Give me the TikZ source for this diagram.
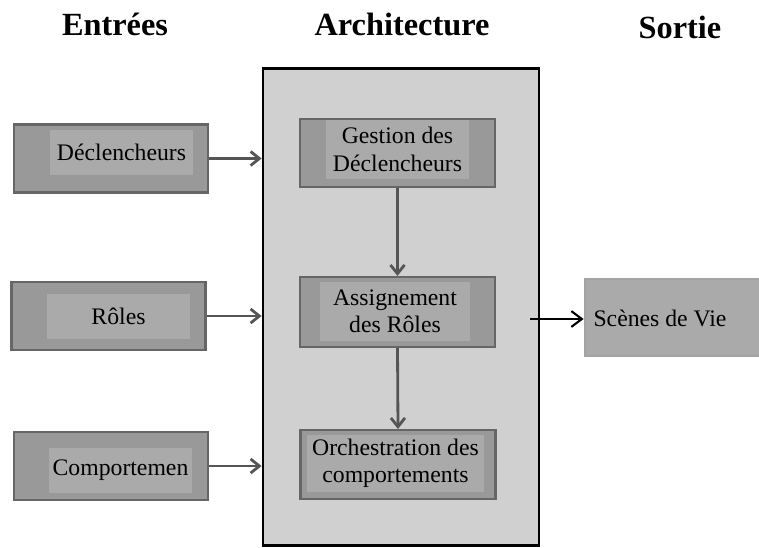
\documentclass[tikz,border=0pt]{standalone}
\usepackage{fontspec}
\setmainfont{Liberation Serif}
\usetikzlibrary{arrows.meta}
\definecolor{boxdark}{HTML}{999999}
\definecolor{boxlight}{HTML}{AAAAAA}
\definecolor{boxline}{HTML}{666666}
\definecolor{archfill}{HTML}{D0D0D0}
\definecolor{arrowgray}{HTML}{555555}
\begin{document}
\begin{tikzpicture}[x=0.02cm,y=-0.02cm]
        \useasboundingbox (0,0) rectangle (759,547);
        \tikzstyle{every node}=[rectangle, inner sep=0pt, text=black, font=\fontsize{13.5}{15.5}\selectfont, align=center]
        \tikzstyle{outer}=[fill=boxdark, draw=boxline, line width=1.2pt, minimum width=3.88cm, minimum height=1.36cm]
        \tikzstyle{inner}=[fill=boxlight, minimum width=2.86cm, minimum height=0.9cm]
        \tikzstyle{title}=[font=\fontsize{18.4}{20}\selectfont\bfseries]
        \tikzstyle{edge}=[arrowgray, line width=1.6pt, -{Straight Barb[length=5pt, width=8pt]}]

        % titles
        \node[title] (tin)   at (115,24) {Entrées};
        \node[title] (tarch) at (402,24) {Architecture};
        \node[title] (tout)  at (680,27) {Sortie};

        % architecture frame
        \node[fill=archfill, draw=black, line width=1.6pt, minimum width=5.52cm, minimum height=9.54cm] (arch) at (401,307) {};

        % inputs
        \node[outer] (dec)  at (111,158.5) {};
        \node[inner] (decT) at (121.5,152.5) {Déclencheurs};
        \node[outer] (rol)  at (108.5,316) {};
        \node[inner] (rolT) at (118.5,316.5) {Rôles};
        \node[outer] (comp)  at (111,466) {};
        \node[inner] (compT) at (120.5,470.5) {Comportemen};

        % architecture blocks
        \node[outer, minimum width=3.9cm] (ges)  at (397.5,153) {};
        \node[inner, minimum height=1.18cm] (gesT) at (397.5,149.5) {Gestion des\\Déclencheurs};
        \node[outer, minimum width=3.9cm, minimum height=1.4cm] (ass)  at (397.5,312) {};
        \node[inner, minimum width=3cm, minimum height=1.18cm] (assT) at (395,311.5) {Assignement\\des Rôles};
        \node[outer, minimum width=3.9cm, minimum height=1.38cm] (orc)  at (398,464.5) {};
        \node[inner, minimum width=3.54cm, minimum height=1.14cm] (orcT) at (395.5,463.5) {Orchestration des\\comportements};

        % output
        \node[fill=boxlight, draw=boxdark!90!white, line width=1.6pt, minimum width=3.8cm, minimum height=1.54cm] (sce) at (680,317.5) {};
        \node (sceT) at (660,318) {Scènes de Vie};
        \coordinate (out) at (530,319);

        \draw[edge] (dec.east) -- (dec.east -| arch.west);
        \draw[edge] (rol.east) -- (rol.east -| arch.west);
        \draw[edge] (comp.east) -- (comp.east -| arch.west);
        \draw[edge] (ges.south) -- (ass.north);
        \draw[edge] (ass.south) -- (orc.north);
        \draw[black, line width=1.2pt, -{Straight Barb[length=6pt, width=9pt]}] (out) -- (out -| sce.west);
    \end{tikzpicture}
\end{document}
